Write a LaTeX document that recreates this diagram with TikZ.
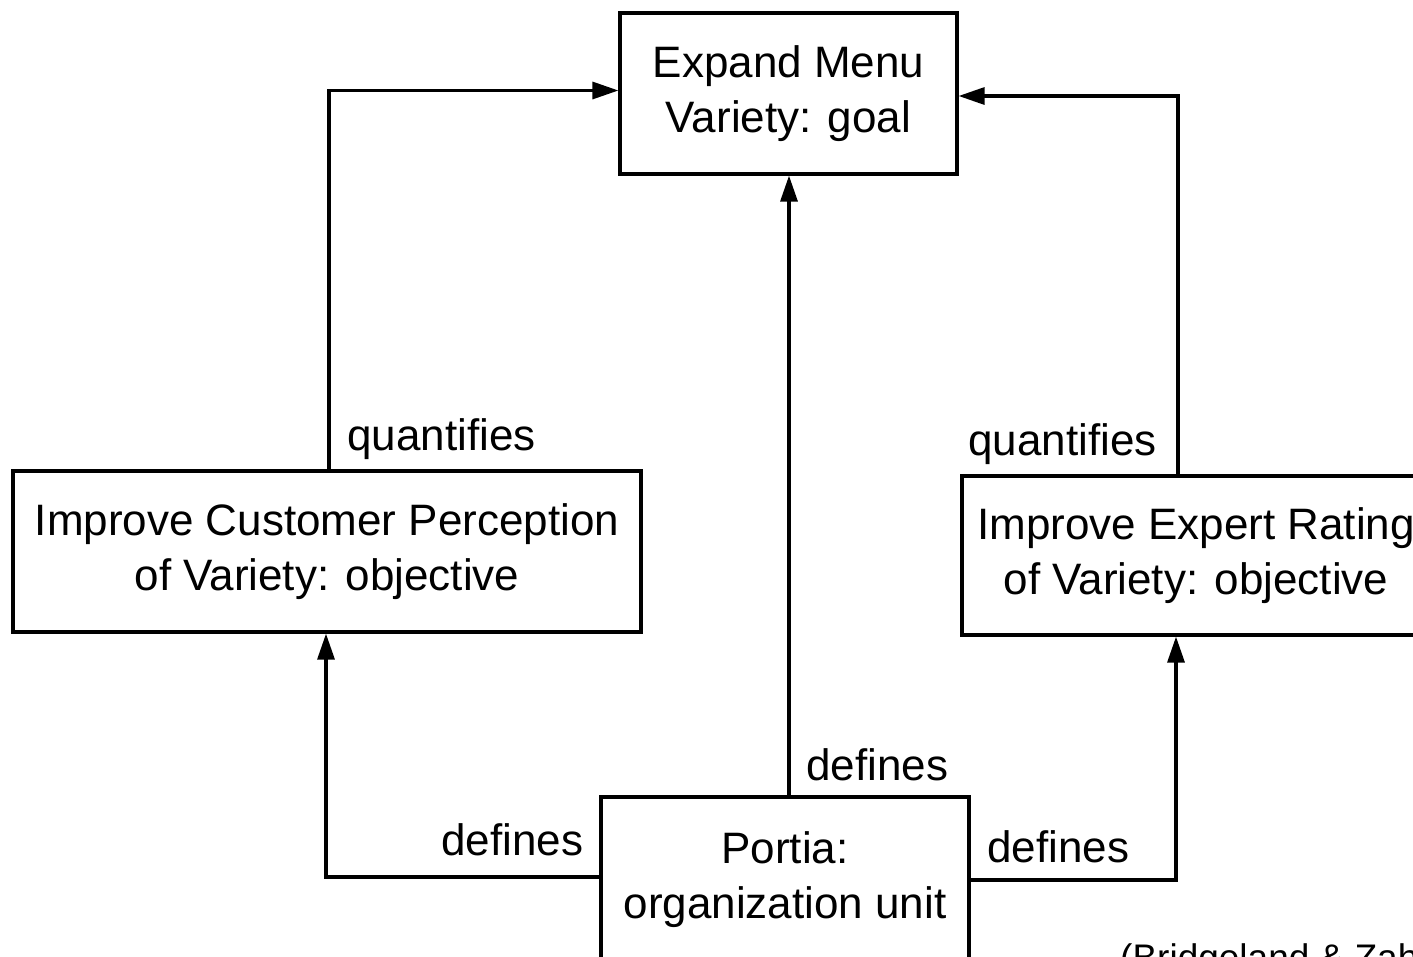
\documentclass[tikz,border=0pt]{standalone}
\usepackage{fontspec}
\setmainfont{Liberation Sans}
\usetikzlibrary{arrows.meta}
\begin{document}
\begin{tikzpicture}[x=1pt,y=-1pt,
  box/.style={draw,line width=3.2pt,align=center,inner sep=0pt,font=\fontsize{44}{55}\selectfont},
  arr/.style={line width=3.2pt,-{Triangle[length=26pt,width=17pt]}},
  lbl/.style={font=\fontsize{44}{55}\selectfont,inner sep=0pt}]
\useasboundingbox (0,0) rectangle (1413,956);
\clip (0,0) rectangle (1413,956);
\node[box,minimum width=337pt,minimum height=161pt] (top) at (788.5,93.5) {Expand Menu\\Variety: goal};
\node[box,minimum width=628pt,minimum height=161pt] (lbox) at (327,551.5) {Improve Customer Perception\\of Variety: objective};
\node[box,minimum width=468pt,minimum height=159pt] (rbox) at (1196,555.5) {Improve Expert Rating\\of Variety: objective};
\node[box,minimum width=368pt,minimum height=166pt] (bot) at (785,880) {Portia:\\organization unit};
\draw[arr] ([xshift=2pt]lbox.north) |- ([yshift=3pt]top.west);
\draw[arr] ([xshift=-18pt]rbox.north) |- ([yshift=-2.5pt]top.east);
\draw[arr] ([xshift=4pt]bot.north) -- ([xshift=4pt]bot.north |- top.south);
\draw[arr] ([yshift=3pt]bot.west) -| ([xshift=-1pt]lbox.south);
\draw[arr] (bot.east) -| ([xshift=-20pt]rbox.south);
\node[lbl,anchor=base west] (q1) at (347,450) {quantifies};
\node[lbl,anchor=base west] (q2) at (968,455) {quantifies};
\node[lbl,anchor=base west] (d1) at (806,780) {defines};
\node[lbl,anchor=base west] (d2) at (441,855) {defines};
\node[lbl,anchor=base west] (d3) at (987,862) {defines};
\node[anchor=base west,inner sep=0pt,font=\fontsize{37}{45}\selectfont] (cap) at (1120,970) {(Bridgeland \& Zahavi, 2009)};
\end{tikzpicture}
\end{document}
